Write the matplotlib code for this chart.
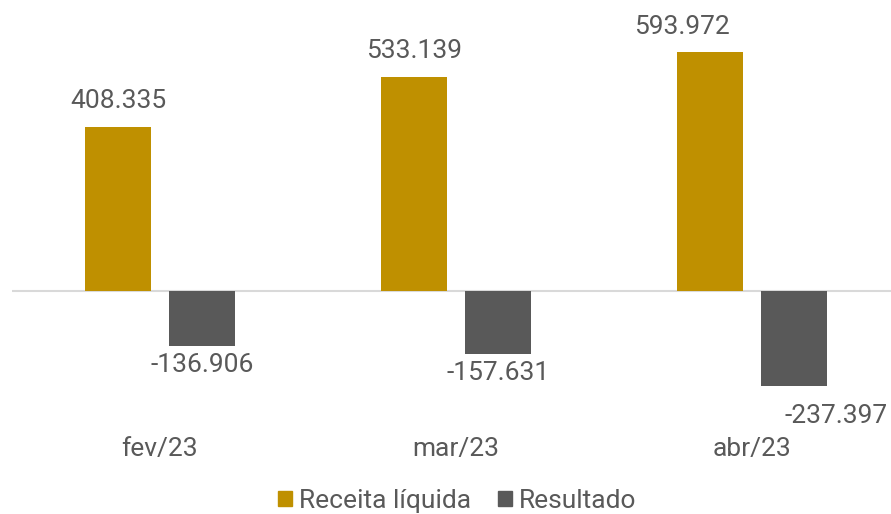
import matplotlib
matplotlib.use("Agg")
import matplotlib.pyplot as plt
from matplotlib.patches import Patch
import numpy as np

plt.rcParams['font.family'] = ['Roboto', 'DejaVu Sans']

categories = ["fev/23", "mar/23", "abr/23"]
receita = [408.335, 533.139, 593.972]
resultado = [-136.906, -157.631, -237.397]
receita_labels = ["408.335", "533.139", "593.972"]
resultado_labels = ["-136.906", "-157.631", "-237.397"]

GOLD = "#BF9000"
GRAY = "#595959"
TXT = "#595959"

W, H = 891, 514
fig = plt.figure(figsize=(W / 100, H / 100), dpi=100)
ax_bottom_px = 420
ax = fig.add_axes([12 / W, (H - ax_bottom_px) / H, 888 / W, ax_bottom_px / H])

px_per_unit = 164 / 408.335
zero_px = 291
ax.set_ylim(-(ax_bottom_px - zero_px) / px_per_unit, zero_px / px_per_unit)
ax.set_xlim(-0.5, 2.5)

x = np.arange(len(categories))
bw = 66 / 296
off = 42 / 296
ax.bar(x - off, receita, bw, color=GOLD, zorder=2)
ax.bar(x + off, resultado, bw, color=GRAY, zorder=2)
ax.axhline(0, color="#D9D9D9", lw=1.5, zorder=1)

fs = 19
# manual nudges for labels (px)
pos_nudges = [(0, 0), (0, 0), (-28, 0)]
for xi, v, lab, (dx, dy) in zip(x, receita, receita_labels, pos_nudges):
    ax.annotate(lab, (xi - off, v), xytext=(dx * 0.72, (18.5 + dy) * 0.72), textcoords="offset points",
                ha="center", va="baseline", fontsize=fs, color=TXT)
neg_nudges = [(0, 0), (0, 0), (42, 11)]
for xi, v, lab, (dx, dy) in zip(x, resultado, resultado_labels, neg_nudges):
    ax.annotate(lab, (xi + off, v), xytext=(dx * 0.72, -(26 + dy) * 0.72), textcoords="offset points",
                ha="center", va="baseline", fontsize=fs, color=TXT)

ax.set_xticks(x)
ax.set_xticklabels(categories, fontsize=fs, color=TXT)
ax.tick_params(axis="x", length=0, pad=12)
ax.set_yticks([])
for s in ax.spines.values():
    s.set_visible(False)

handles = [Patch(color=GOLD, label="Receita líquida"), Patch(color=GRAY, label="Resultado")]
fig.legend(handles=handles, loc="center", bbox_to_anchor=(457 / W, 1 - 501 / H), ncol=2,
           frameon=False, fontsize=fs, handlelength=0.53, handleheight=0.53,
           handletextpad=0.27, columnspacing=1.0, borderpad=0, labelcolor=TXT)

fig.savefig("out.png", dpi=100)
